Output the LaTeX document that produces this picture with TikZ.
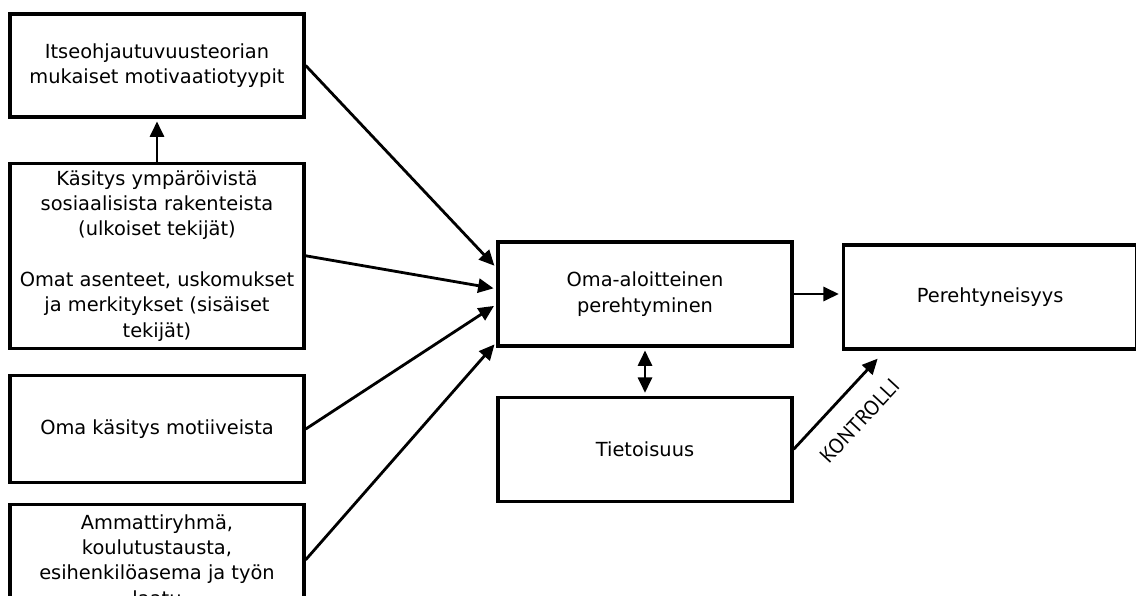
\documentclass[tikz,border=0pt]{standalone}
\usepackage{fontspec}
\setmainfont{DejaVu Sans}
\newfontfamily\kontrollifont{PT Sans}
\usepackage{tikz}
\usetikzlibrary{arrows.meta,positioning,calc}

\begin{document}
\begin{tikzpicture}[x=0.025cm, y=-0.025cm, >={Triangle[length=11pt,width=10pt]}, shorten >=2pt, line width=2pt,
      box/.style={draw, line width=2.3pt, minimum width=7.35cm, minimum height=2.6cm, align=center, inner sep=2pt, font=\fontsize{13.8}{18}\selectfont}]
     \useasboundingbox (0,0) rectangle (1136,596);
     \node[box, minimum height=2.575cm] (motiv) at (157,65.5) {Itseohjautuvuusteorian\\ mukaiset motivaatiotyypit};
     \node[box, minimum height=4.625cm, below = 1.075cm of motiv] (kasitys) {Käsitys ympäröivistä\\ sosiaalisista rakenteista\\ (ulkoiset tekijät)\\[18pt] Omat asenteet, uskomukset\\ ja merkitykset (sisäiset\\ tekijät)};
     \node[box, minimum height=2.675cm, below = 0.6cm of kasitys] (omakasitys) {Oma käsitys motiiveista};
     \node[box, minimum height=2.75cm, below = 0.475cm of omakasitys] (ammatti) {Ammattiryhmä,\\ koulutustausta,\\ esihenkilöasema ja työn\\ laatu};
     \node[box] (omaaloit) at (645,294) {Oma-aloitteinen\\ perehtyminen};
     \node[box, below = 1.2cm of omaaloit] (tietoisuus) {Tietoisuus};
     \node[box, minimum width=7.34cm, right = 1.2cm of omaaloit, yshift=-0.075cm] (perehtyn) {Perehtyneisyys};
     \coordinate[below right = 0.2cm and 0.9cm of perehtyn.south west] (kontrollikarki);
     \draw[->] (kasitys) -- (motiv);
     \draw[->] (motiv.east) -- (omaaloit.170);
     \draw[->] (kasitys.east) -- (omaaloit.178);
     \draw[->] (omakasitys.east) -- (omaaloit.184);
     \draw[->] (ammatti.east) -- (omaaloit.198);
     \draw[->] (omaaloit.east) -- (omaaloit.east -| perehtyn.west);
     \draw[<->, shorten <=2pt] (omaaloit) -- (tietoisuus);
     \draw[->, shorten >=0pt] (tietoisuus.east) -- node[sloped, below=0.5cm, pos=0.53, inner sep=0pt, font=\kontrollifont\fontsize{15}{15}\selectfont] (kontrolli) {KONTROLLI} (kontrollikarki);
    \end{tikzpicture}
\end{document}
